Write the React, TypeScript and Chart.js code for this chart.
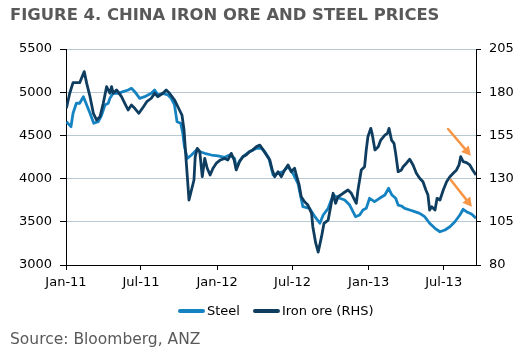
import React, { useEffect, useRef } from "react";
import { Chart, registerables } from "chart.js";

Chart.register(...registerables);

// ---- Data ----
const START_DATE = "2011-01-01";
const END_DATE = "2013-09-17";
const tickDates = ["2011-01-01", "2011-07-01", "2012-01-01", "2012-07-01", "2013-01-01", "2013-07-01"];
const tickLabels = ["Jan-11", "Jul-11", "Jan-12", "Jul-12", "Jan-13", "Jul-13"];

const seriesLabels = ["Steel", "Iron ore (RHS)"];

// days since START_DATE
const steelDays = [
  1, 12, 17, 25, 33, 42, 50, 58, 67, 78,
  86, 94, 102, 106, 114, 126, 138, 150, 158, 166,
  178, 190, 206, 214, 222, 234, 246, 254, 262, 268,
  277, 282, 286, 293, 303, 315, 323, 335, 351, 367,
  383, 395, 407, 411, 419, 427, 443, 460, 472, 480,
  490, 500, 512, 524, 536, 548, 560, 572, 588, 601,
  613, 621, 633, 645, 653, 661, 673, 685, 693, 699,
  709, 717, 725, 733, 745, 757, 770, 779, 787, 796,
  802, 810, 818, 830, 842, 854, 866, 878, 891, 903,
  915, 927, 939, 951, 959, 967, 979, 990,
];
const steelValues = [
  4659, 4601, 4756, 4872, 4872, 4948, 4852, 4756, 4640, 4659,
  4736, 4852, 4872, 4929, 4987, 4987, 5006, 5025, 5045, 5006,
  4929, 4948, 4987, 5025, 4968, 4987, 4968, 4929, 4852, 4659,
  4640, 4524, 4369, 4235, 4273, 4331, 4311, 4293, 4273, 4262,
  4247, 4273, 4235, 4123, 4204, 4253, 4311, 4351, 4351, 4311,
  4235, 4042, 4061, 4080, 4138, 4061, 3946, 3675, 3656, 3559,
  3483, 3579, 3656, 3810, 3791, 3772, 3752, 3694, 3617, 3559,
  3579, 3637, 3656, 3772, 3733, 3772, 3810, 3888, 3810, 3772,
  3694, 3683, 3656, 3637, 3617, 3598, 3559, 3483, 3425, 3385,
  3405, 3443, 3501, 3579, 3645, 3617, 3590, 3541,
];

const ironDays = [
  1, 9, 17, 33, 44, 50, 58, 66, 74, 82,
  90, 98, 106, 110, 114, 122, 134, 142, 150, 158,
  166, 176, 187, 195, 206, 214, 222, 234, 242, 250,
  262, 274, 280, 285, 290, 297, 303, 309, 312, 317,
  323, 329, 335, 341, 348, 355, 363, 373, 383, 391,
  399, 406, 411, 419, 427, 435, 443, 451, 460, 468,
  476, 484, 492, 498, 504, 512, 520, 528, 536, 544,
  552, 556, 563, 568, 576, 584, 593, 596, 603, 609,
  617, 623, 633, 639, 645, 651, 657, 669, 681, 689,
  697, 701, 705, 713, 721, 725, 729, 736, 739, 746,
  754, 760, 770, 776, 780, 786, 792, 796, 802, 810,
  814, 822, 830, 838, 846, 854, 862, 869, 874, 878,
  883, 891, 896, 903, 911, 919, 927, 935, 943, 949,
  953, 959, 967, 975, 982, 990,
];
const ironValues = [
  170.7, 179.4, 185.5, 185.5, 191.9, 185.1, 177.4, 167.8, 163.9, 165.8,
  173.6, 183.2, 179.4, 183.2, 179.4, 181.3, 177.4, 173.6, 169.7, 172.6,
  170.7, 167.8, 171.6, 174.5, 176.5, 179.4, 177.4, 179.4, 181.3, 179.4,
  175.5, 169.7, 166.8, 158.1, 140.8, 117.6, 123.4, 129.2, 142.7, 147.5,
  145.6, 131.1, 141.7, 136.0, 132.1, 136.0, 138.9, 140.8, 141.7, 140.8,
  144.6, 140.8, 135.0, 139.8, 142.7, 143.7, 145.6, 146.6, 148.5, 149.4,
  146.6, 143.7, 140.8, 135.0, 131.1, 134.0, 131.1, 135.0, 137.9, 134.0,
  136.0, 132.1, 126.3, 119.5, 116.6, 114.7, 109.9, 102.2, 92.6, 87.5,
  96.4, 104.1, 106.0, 113.7, 121.5, 115.7, 119.5, 121.5, 123.4, 121.5,
  117.6, 115.7, 123.4, 135.0, 136.9, 146.6, 154.2, 159.1, 156.2, 146.6,
  148.5, 152.3, 155.2, 156.2, 159.1, 152.3, 150.4, 144.6, 134.0, 135.0,
  136.9, 138.9, 141.2, 137.9, 133.1, 130.2, 128.2, 123.4, 120.5, 111.8,
  113.7, 111.8, 118.6, 117.6, 123.4, 128.2, 131.1, 133.1, 135.0, 137.9,
  142.7, 139.8, 139.2, 137.9, 135.0, 132.1,
];

// left axis
const leftMin = 3000;
const leftMax = 5500;
const leftStep = 500;
// right axis
const rightMin = 80;
const rightMax = 205;
const rightStep = 25;

// annotation arrows (x in days since START_DATE, y in left-axis units)
const arrowFromDays = [922.6, 929.2];
const arrowFromValues = [4574, 3984];
const arrowToDays = [977.5, 980];
const arrowToValues = [4265, 3675];

// ---- Styles ----
const FONT = "'DejaVu Sans', Verdana, sans-serif";
const STEEL_COLOR = "#1582c2";
const IRON_COLOR = "#0f3d5f";
const GRID_COLOR = "#b9c9d1";
const ARROW_COLOR = "#f79646";

function dayOf(dateStr: string): number {
  const [y0, m0, d0] = START_DATE.split("-").map(Number);
  const [y, m, d] = dateStr.split("-").map(Number);
  return Math.round((Date.UTC(y, m - 1, d) - Date.UTC(y0, m0 - 1, d0)) / 86400000);
}

const tickDays = tickDates.map(dayOf);
const endDay = dayOf(END_DATE);

const arrowPlugin = {
  id: "arrows",
  afterDatasetsDraw(chart: any) {
    const { ctx } = chart;
    const xs = chart.scales.x;
    const ys = chart.scales.y;
    ctx.save();
    ctx.strokeStyle = ARROW_COLOR;
    ctx.fillStyle = ARROW_COLOR;
    ctx.lineWidth = 2.5;
    ctx.lineCap = "round";
    for (let i = 0; i < arrowFromDays.length; i++) {
      const x1 = xs.getPixelForValue(arrowFromDays[i]);
      const y1 = ys.getPixelForValue(arrowFromValues[i]);
      const x2 = xs.getPixelForValue(arrowToDays[i]);
      const y2 = ys.getPixelForValue(arrowToValues[i]);
      const ang = Math.atan2(y2 - y1, x2 - x1);
      const headLen = 9;
      const headW = 5;
      const bx = x2 - headLen * Math.cos(ang);
      const by = y2 - headLen * Math.sin(ang);
      ctx.beginPath();
      ctx.moveTo(x1, y1);
      ctx.lineTo(bx, by);
      ctx.stroke();
      ctx.beginPath();
      ctx.moveTo(x2, y2);
      ctx.lineTo(bx + headW * Math.sin(ang), by - headW * Math.cos(ang));
      ctx.lineTo(bx - headW * Math.sin(ang), by + headW * Math.cos(ang));
      ctx.closePath();
      ctx.fill();
    }
    ctx.restore();
  },
};

const legendPlugin = {
  id: "customLegend",
  afterDraw(chart: any) {
    const { ctx, chartArea } = chart;
    ctx.save();
    ctx.font = `13px ${FONT}`;
    ctx.textBaseline = "middle";
    ctx.textAlign = "left";
    const box = 27;
    const gap = 2;
    const itemGap = 13;
    let x = (chartArea.left + chartArea.right) / 2 - 93;
    const y = chartArea.bottom + 46;
    chart.data.datasets.forEach((ds: any) => {
      ctx.fillStyle = ds.borderColor;
      ctx.beginPath();
      if (ctx.roundRect) ctx.roundRect(x, y - 2, box, 4, 2);
      else ctx.rect(x, y - 2, box, 4);
      ctx.fill();
      ctx.fillStyle = "#000";
      ctx.fillText(ds.label, x + box + gap, y + 0.5);
      x += box + gap + ctx.measureText(ds.label).width + itemGap;
    });
    ctx.restore();
  },
};

export default function App() {
  const ref = useRef<HTMLCanvasElement | null>(null);

  useEffect(() => {
    if (!ref.current) return;
    Chart.defaults.font.family = FONT;
    Chart.defaults.font.size = 13;
    Chart.defaults.color = "#000";
    const chart = new Chart(ref.current, {
      type: "line",
      data: {
        datasets: [
          {
            label: seriesLabels[0],
            data: steelDays.map((d, i) => ({ x: d, y: steelValues[i] })),
            borderColor: STEEL_COLOR,
            backgroundColor: STEEL_COLOR,
            borderWidth: 2.8,
            pointRadius: 0,
            tension: 0,
            borderJoinStyle: "round",
            yAxisID: "y",
            order: 1,
          },
          {
            label: seriesLabels[1],
            data: ironDays.map((d, i) => ({ x: d, y: ironValues[i] })),
            borderColor: IRON_COLOR,
            backgroundColor: IRON_COLOR,
            borderWidth: 2.8,
            pointRadius: 0,
            tension: 0,
            borderJoinStyle: "round",
            yAxisID: "y1",
            order: 0,
          },
        ],
      },
      options: {
        animation: false,
        responsive: false,
        devicePixelRatio: 1,
        layout: { padding: { top: 49, left: 0, right: 0, bottom: 61 } },
        plugins: {
          legend: { display: false },
          tooltip: { enabled: false },
          title: { display: false },
        },
        scales: {
          x: {
            type: "linear",
            min: 0,
            max: endDay,
            afterBuildTicks: (s: any) => {
              s.ticks = tickDays.map((v) => ({ value: v }));
            },
            afterFit: (s: any) => {
              s.height = 30;
            },
            ticks: {
              autoSkip: false,
              maxRotation: 0,
              padding: 5,
              color: "#000",
              font: { size: 13 },
              callback: (v: any) => {
                const i = tickDays.indexOf(Number(v));
                return i >= 0 ? tickLabels[i] : "";
              },
            },
            grid: { drawOnChartArea: false, drawTicks: true, tickLength: 5, tickColor: "#000" },
            border: { color: "#000", width: 1 },
          },
          y: {
            type: "linear",
            position: "left",
            min: leftMin,
            max: leftMax,
            afterFit: (s: any) => {
              s.width = 66;
            },
            ticks: {
              stepSize: leftStep,
              padding: 8,
              color: "#000",
              font: { size: 13 },
              callback: (v: any) => String(v),
            },
            grid: {
              color: (c: any) => (c.tick && c.tick.value === leftMin ? "rgba(0,0,0,0)" : GRID_COLOR),
              tickColor: "#000",
              tickLength: 6,
              lineWidth: 1,
            },
            border: { color: "#000", width: 1 },
          },
          y1: {
            type: "linear",
            position: "right",
            min: rightMin,
            max: rightMax,
            afterFit: (s: any) => {
              s.width = 43;
            },
            ticks: {
              stepSize: rightStep,
              padding: 8,
              color: "#000",
              font: { size: 13 },
              callback: (v: any) => String(v),
            },
            grid: { drawOnChartArea: false, tickColor: "#000", tickLength: 5 },
            border: { color: "#000", width: 1 },
          },
        },
      },
      plugins: [arrowPlugin, legendPlugin],
    } as any);
    return () => chart.destroy();
  }, []);

  return (
    <div style={{ position: "fixed", left: 0, top: 0, width: 519, height: 356, background: "#fff", overflow: "hidden" }}>
      <canvas ref={ref} width={519} height={356} style={{ position: "absolute", left: 0, top: 0, width: 519, height: 356 }} />
      <div
        style={{
          position: "absolute",
          left: 10,
          top: 6,
          font: `bold 16.4px ${FONT}`,
          lineHeight: "17px",
          color: "#595959",
          whiteSpace: "nowrap",
        }}
      >
        FIGURE 4. CHINA IRON ORE AND STEEL PRICES
      </div>
      <div
        style={{
          position: "absolute",
          left: 10,
          top: 332,
          font: `15.5px ${FONT}`,
          lineHeight: "15px",
          color: "#595959",
          whiteSpace: "nowrap",
        }}
      >
        Source: Bloomberg, ANZ
      </div>
    </div>
  );
}
